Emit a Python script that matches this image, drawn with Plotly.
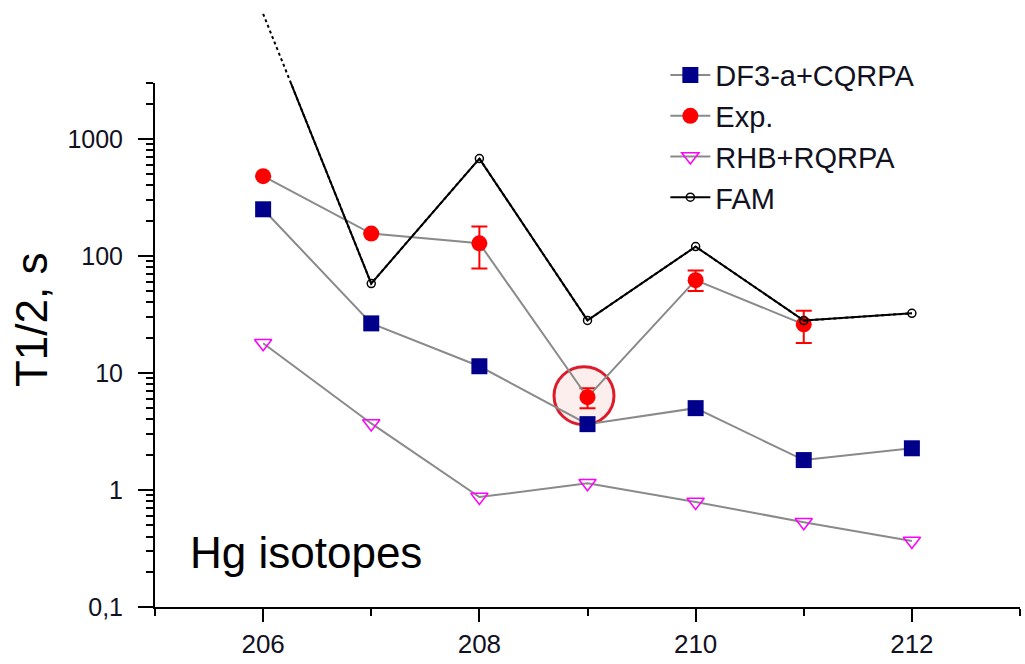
import math
import plotly.graph_objects as go

# Mass numbers of the Hg isotopes
isotopes = [206, 207, 208, 209, 210, 211, 212]

# Half-lives T1/2 in seconds
df3_cqrpa = [250, 26.5, 11.4, 3.65, 5.0, 1.8, 2.27]
rhb_rqrpa = [17.9, 3.7, 0.87, 1.14, 0.79, 0.53, 0.366]
fam = [11700, 58, 678, 28.1, 120, 28, 32.3]

exp_isotopes = [206, 207, 208, 209, 210, 211]
exp_values = [480, 155, 128, 6.2, 62, 26]
exp_err_plus = [None, None, 50, 1.2, 13, 8]
exp_err_minus = [None, None, 50, 1.2, 12, 8]

# Axis ticks
x_ticks = [206, 208, 210, 212]
y_ticks = [0.1, 1, 10, 100, 1000]
y_tick_text = ["0,1", "1", "10", "100", "1000"]
y_minor = [m * 10 ** e for e in range(-1, 4) for m in range(2, 10) if m * 10 ** e <= 3000]

FONT = "Liberation Sans, Arial, sans-serif"
GRAY = "#8a8a8a"

# Figure geometry
WIDTH, HEIGHT = 1025, 664
MARGIN = dict(l=155, r=5, t=0, b=57)
plot_w = WIDTH - MARGIN["l"] - MARGIN["r"]
plot_h = HEIGHT - MARGIN["t"] - MARGIN["b"]
x_range = [205, 213]

# The framed axis reaches 3000 s; an outer layer extends upward above it
y_bottom, y_axis_top = -1.0, math.log10(3000)
frame_frac = 0.8633
y_full_top = y_bottom + (y_axis_top - y_bottom) / frame_frac


def to_paper(xv, yv):
    px = (xv - x_range[0]) / (x_range[1] - x_range[0])
    py = frame_frac * (math.log10(yv) - y_bottom) / (y_axis_top - y_bottom)
    return px, py


fig = go.Figure()

# Portion of the FAM curve running above the axis frame, drawn dotted
fig.add_trace(go.Scatter(
    x=isotopes, y=fam, xaxis="x2", yaxis="y2", mode="lines",
    line=dict(color="black", width=2, dash="dot"),
    showlegend=False, hoverinfo="skip",
))

fig.add_trace(go.Scatter(
    x=isotopes, y=df3_cqrpa, name="DF3-a+CQRPA", mode="lines+markers",
    line=dict(color=GRAY, width=2),
    marker=dict(symbol="square", size=16, color="#00008b"),
))
fig.add_trace(go.Scatter(
    x=exp_isotopes, y=exp_values, name="Exp.", mode="lines+markers",
    line=dict(color=GRAY, width=2),
    marker=dict(symbol="circle", size=16, color="#ff0000"),
    error_y=dict(type="data", symmetric=False, array=exp_err_plus,
                 arrayminus=exp_err_minus, color="#ff0000", thickness=2, width=8),
))
fig.add_trace(go.Scatter(
    x=isotopes, y=rhb_rqrpa, name="RHB+RQRPA", mode="lines+markers",
    line=dict(color=GRAY, width=2),
    marker=dict(symbol="triangle-down-open", size=15, color="#ff00ff",
                line=dict(width=1.5, color="#ff00ff")),
))
fig.add_trace(go.Scatter(
    x=isotopes, y=fam, name="FAM", mode="lines+markers",
    line=dict(color="black", width=2),
    marker=dict(symbol="circle-open", size=8, color="black",
                line=dict(width=1.5, color="black")),
))

# Highlight ring around the 209Hg measurement (offsets in pixels)
cx, cy = to_paper(exp_isotopes[3], exp_values[3])
fig.add_shape(
    type="circle", xref="paper", yref="paper",
    x0=cx - 33.5 / plot_w, x1=cx + 26.5 / plot_w,
    y0=cy - 27.5 / plot_h, y1=cy + 30.5 / plot_h,
    line=dict(color="#dc1c2c", width=3), fillcolor="#fdeeee", layer="below",
)

fig.add_annotation(
    text="Hg isotopes", xref="paper", yref="paper", x=0.038, y=0.09,
    xanchor="left", yanchor="middle", showarrow=False,
    font=dict(family=FONT, size=44, color="black"),
)
fig.add_annotation(
    text="T1/2, s", xref="paper", yref="paper", x=-0.142, y=0.473,
    xanchor="center", yanchor="middle", textangle=-90, showarrow=False,
    font=dict(family=FONT, size=44, color="black"),
)

fig.update_layout(
    width=WIDTH, height=HEIGHT,
    margin=MARGIN,
    paper_bgcolor="white", plot_bgcolor="rgba(0,0,0,0)",
    font=dict(family=FONT, color="#111122"),
    showlegend=True,
    legend=dict(
        x=0.59, y=0.918, xanchor="left", yanchor="top",
        bgcolor="rgba(255,255,255,0)", font=dict(family=FONT, size=29, color="#111122"),
        itemwidth=40,
    ),
    xaxis=dict(
        range=x_range, tickvals=x_ticks, ticks="outside", ticklen=13, tickwidth=2,
        tickcolor="black", showline=True, linecolor="black", linewidth=2,
        showgrid=False, zeroline=False, tickfont=dict(family=FONT, size=26),
        minor=dict(tickmode="array", tickvals=[205, 207, 209, 211, 213],
                   ticks="outside", ticklen=7, tickwidth=2, tickcolor="black"),
        anchor="y",
    ),
    yaxis=dict(
        type="log", range=[y_bottom, y_axis_top], domain=[0, frame_frac],
        tickvals=y_ticks, ticktext=y_tick_text, ticks="outside", ticklen=15,
        tickwidth=2, tickcolor="black", showline=True, linecolor="black",
        linewidth=2, showgrid=False, zeroline=False, ticklabelstandoff=10,
        tickfont=dict(family=FONT, size=25),
        minor=dict(tickmode="array", tickvals=y_minor, ticks="outside",
                   ticklen=7, tickwidth=2, tickcolor="black"),
        anchor="x",
    ),
    xaxis2=dict(range=x_range, visible=False, anchor="y2"),
    yaxis2=dict(type="log", range=[y_bottom, y_full_top], domain=[0, 1],
                visible=False, anchor="x2"),
)

fig.write_html("out.html")
